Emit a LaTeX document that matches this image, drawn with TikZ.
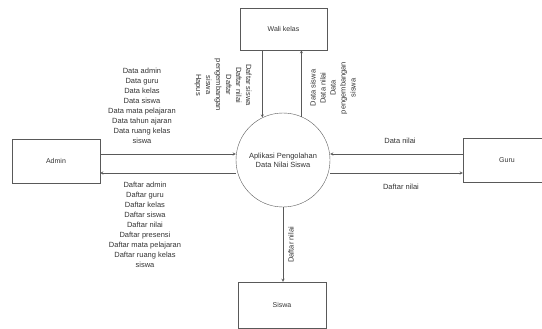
\documentclass[tikz,border=0pt]{standalone}
\usepackage{fontspec}
\setmainfont{Liberation Sans}
\usepackage{tikz}
\usetikzlibrary{positioning}
\usetikzlibrary{shapes, arrows, calc}
\definecolor{garis}{rgb}{0.35, 0.35, 0.35}
\tikzstyle{entitas} = [rectangle, draw=garis, thin, minimum width=88pt, minimum height=44pt, font=\fontsize{7}{8}\selectfont, text=black!80]
\tikzstyle{proses} = [circle, draw=garis, thin, minimum size=94pt, inner sep=0pt, align=center, font=\fontsize{7.5}{9}\selectfont, text=black!80]
\tikzstyle{label} = [align=center, inner sep=0pt, font=\fontsize{7.5}{10}\selectfont, text=black!80]
\tikzstyle{alur} = [thin, draw=garis, ->, >=stealth]

\begin{document}
\begin{tikzpicture}[x=1pt,y=-1pt]
\useasboundingbox (0,0) rectangle (542,329);
\clip (0,0) rectangle (542,329);
\node (proses) [proses] at (283,160) {Aplikasi Pengolahan\\Data Nilai Siswa};
\node (admin) [entitas] at (56,161) {Admin};
\node (guru) [entitas] at (507,160.5) {Guru};
\node (wali) [entitas, minimum width=87pt, minimum height=42pt] at (283.5,29) {Wali kelas};
\node (siswa) [entitas, minimum height=46pt] at (282,305) {Siswa};
% admin
\draw[alur] ([yshift=7pt]admin.east) -- ([yshift=7pt]admin.east -| proses.west);
\draw[alur] ([yshift=-12pt]admin.east -| proses.west) -- ([yshift=-12pt]admin.east);
\node (dataadmin) [label] at (142,105.5) {Data admin\\Data guru\\Data kelas\\Data siswa\\Data mata pelajaran\\Data tahun ajaran\\Data ruang kelas\\siswa};
\node (daftaradmin) [label] at (145,225) {Daftar admin\\Daftar guru\\Daftar kelas\\Daftar siswa\\Daftar nilai\\Daftar presensi\\Daftar mata pelajaran\\Daftar ruang kelas\\siswa};
% guru
\draw[alur] ([yshift=6.5pt]guru.west) -- ([yshift=6.5pt]guru.west -| proses.east);
\draw[alur] ([yshift=-12.5pt]guru.west -| proses.east) -- ([yshift=-12.5pt]guru.west);
\node (datanilai) [label] at (400,141) {Data nilai};
\node (daftarnilai) [label] at (401,187) {Daftar nilai};
% wali kelas
\draw[alur] (proses.116.5 |- wali.south) -- (proses.116.5);
\draw[alur] (proses.67.5) -- (proses.67.5 |- wali.south);
\node (daftarwali) [label, rotate=-90] at (223,85) {Daftar siswa\\Daftar nilai\\Daftar\\pengembangan\\siswa\\Hapus};
\node (datawali) [label, rotate=90] at (333,88) {Data siswa\\Data nilai\\Data\\pengembangan\\siswa};
% siswa
\draw[alur] (proses.south) -- (proses.south |- siswa.north);
\node (daftarsiswa) [label, rotate=90] at (291,245) {Daftar nilai};
\end{tikzpicture}
\end{document}
